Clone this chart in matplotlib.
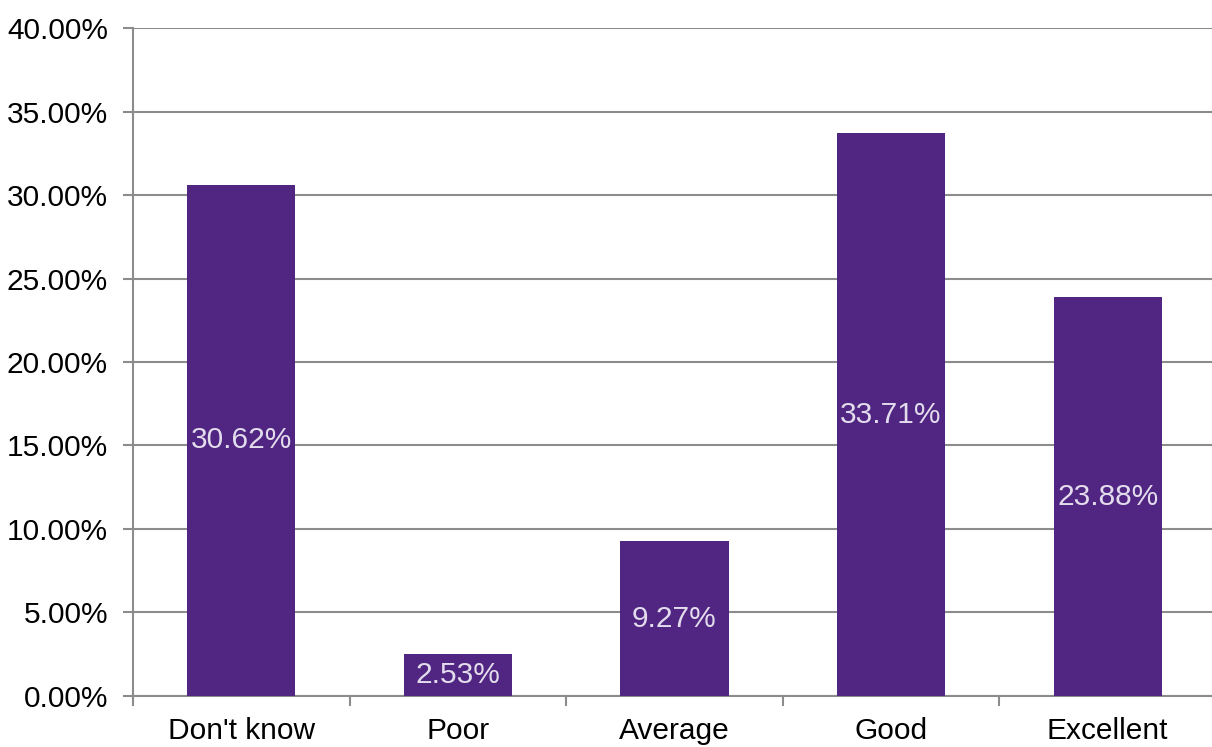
import numpy as np
import matplotlib
matplotlib.use("Agg")
import matplotlib.pyplot as plt

categories = ["Don't know", "Poor", "Average", "Good", "Excellent"]
shares = [30.62, 2.53, 9.27, 33.71, 23.88]

plt.rcParams['font.family'] = ['Liberation Sans', 'DejaVu Sans']
fs = 21.5

fig = plt.figure(figsize=(12.12, 7.47), dpi=100)
ax = fig.add_axes([0.1097, 0.0683, 0.8936, 0.8942])

x = np.arange(len(categories))
bars = ax.bar(x, shares, width=0.5, color='#512682', zorder=3)

# value labels in the middle of each bar
for b, v in zip(bars, shares):
    ax.text(b.get_x() + b.get_width() / 2, v / 2, "%.2f%%" % v,
            ha='center', va='center', color='#e2dcec', fontsize=fs, zorder=4)

ax.set_xlim(-0.5, len(categories) - 0.5)
ax.set_ylim(0, 40)
ax.set_yticks(np.arange(0, 41, 5))
ax.set_yticklabels(["%.2f%%" % t for t in np.arange(0, 41, 5)], fontsize=fs)
ax.yaxis.grid(True, color='#8c8c8c', linewidth=1.5, zorder=0)

# category names centred, tick marks between categories
ax.set_xticks(x)
ax.set_xticklabels(categories, fontsize=fs)
ax.tick_params(axis='x', which='major', length=0, pad=15)
ax.set_xticks(np.arange(-0.5, len(categories) - 0.5), minor=True)
ax.tick_params(axis='x', which='minor', length=7, width=1.5, color='#8c8c8c')
ax.tick_params(axis='y', length=7, width=1.5, color='#8c8c8c', pad=11)

for side in ['top', 'right']:
    ax.spines[side].set_visible(False)
ax.spines['left'].set_color('#8c8c8c')
ax.spines['left'].set_linewidth(1.5)
ax.spines['bottom'].set_color('#8c8c8c')
ax.spines['bottom'].set_linewidth(1.5)

fig.savefig("out.png", dpi=100)
